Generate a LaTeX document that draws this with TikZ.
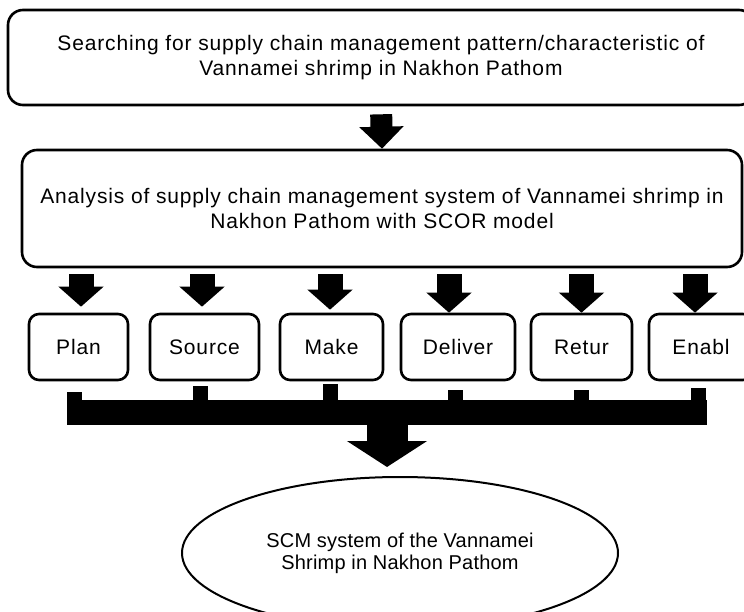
\documentclass[tikz,border=0pt]{standalone}
\usepackage{fontspec}
\setmainfont{Liberation Sans}
\usepackage{tikz}
\usetikzlibrary{arrows.meta, positioning, shapes.geometric}

\begin{document}
\begin{tikzpicture}[x=1pt, y=-1pt,
    stagebox/.style={draw, line width=2.6pt, rounded corners=15pt, align=center,
      inner sep=0pt, font=\fontsize{21}{25.5}\selectfont\addfontfeatures{LetterSpace=4}},
    scorbox/.style={stagebox, rounded corners=10pt, minimum height=66pt},
    bigarrow/.style={line width=22pt, -{Triangle[width=43pt, length=22pt]}},
    smallarrow/.style={line width=25pt, -{Triangle[width=44pt, length=20pt]}},
    trunkarrow/.style={line width=41pt, -{Triangle[width=79pt, length=26pt]}},
    stub/.style={line width=15pt}]
  \useasboundingbox (0,0) rectangle (744,612);
  % the two main stages
  \node[stagebox, minimum width=746pt, minimum height=95pt] (search) at (381,57.5)
    {Searching for supply chain management pattern/characteristic of\\Vannamei shrimp in Nakhon Pathom};
  \node[stagebox, minimum width=720pt, minimum height=117pt] (analysis) at (382,208.5)
    {Analysis of supply chain management system of Vannamei shrimp in\\Nakhon Pathom with SCOR model};
  \draw[bigarrow, shorten <=8pt] (search.south) -- (analysis.north);
  % SCOR processes
  \node[scorbox, minimum width=99pt] (plan) at (78.5,347) {Plan};
  \node[scorbox, minimum width=109pt] (source) at (204.5,347) {Source};
  \node[scorbox, minimum width=103pt] (make) at (331.5,347) {Make};
  \node[scorbox, minimum width=114pt] (deliver) at (458,347) {Deliver};
  \node[scorbox, minimum width=101pt] (retur) at (581.5,347) {Retur};
  \node[scorbox, minimum width=104pt] (enabl) at (701,347) {Enabl};
  \foreach \stage/\dx/\gap in {plan/2.5/6, source/-2.5/6, make/-1.5/3, deliver/-9/0, retur/0/0, enabl/-6/0}
    \draw[smallarrow, shorten <=6pt, shorten >=\gap pt]
      ([xshift=\dx pt]\stage.north |- analysis.south) -- ([xshift=\dx pt]\stage.north);
  % collecting bar
  \node[fill, inner sep=0pt, minimum width=640pt, minimum height=25pt] (bus) at (387,412.5) {};
  \foreach \stage/\dx/\gap in {plan/-4/11, source/-4/5, make/-1/3, deliver/-3/9, retur/0/9, enabl/-2.5/7}
    \draw[stub] ([xshift=\dx pt, yshift=-\gap pt]\stage.south) -- ([xshift=\dx pt]\stage.south |- bus.north);
  % result
  \node[draw, ellipse, line width=2pt, inner sep=0pt, minimum width=436pt, minimum height=152pt,
    align=center, font=\fontsize{20}{22}\selectfont\addfontfeatures{LetterSpace=1}] (result) at (400,553)
    {SCM system of the Vannamei\\Shrimp in Nakhon Pathom};
  \draw[trunkarrow, shorten >=9pt] (bus.south) -- (bus.south |- result.north);
\end{tikzpicture}
\end{document}
